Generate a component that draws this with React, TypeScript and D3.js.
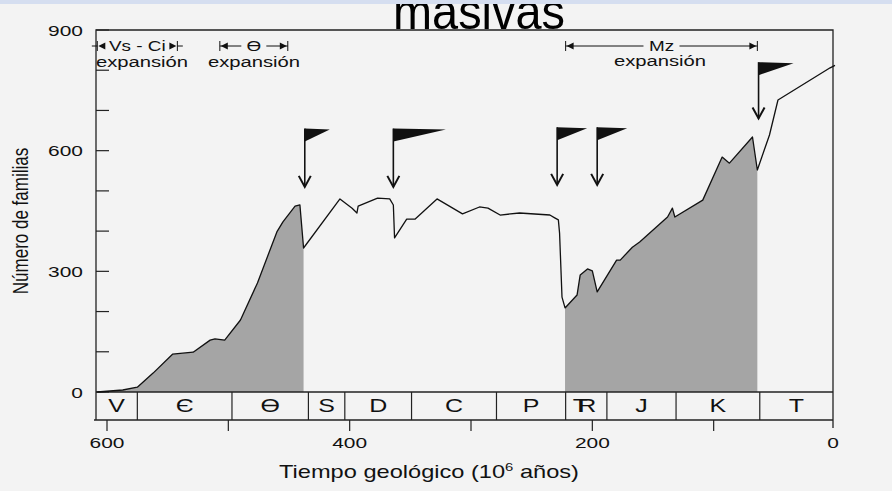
import { useMemo } from 'react';
import * as d3 from 'd3';

// curve: millions of years ago vs number of marine families
const TIMES = [608, 587, 575, 562, 546, 529, 515, 511, 503, 490, 476, 460, 455, 445, 441, 438,
  408, 398, 394, 393, 377, 367, 364, 363, 353, 346, 328, 307, 293, 286, 276, 260, 235, 231, 228, 227,
  225, 222.5, 212.6, 210, 204, 200, 196, 180, 177, 167, 161, 138, 134, 132, 109, 93, 87, 68, 64,
  54, 47, 4, 0];
const FAMILIES = [0, 5, 12, 47, 94, 99, 129, 132, 129, 179, 271, 398, 423, 462, 465, 358,
  480, 457, 445, 462, 482, 480, 465, 383, 430, 430, 480, 443, 460, 457, 440, 445, 440, 433, 428, 395,
  236, 209, 241, 291, 306, 301, 249, 328, 328, 360, 373, 435, 457, 435, 477, 584, 569, 634, 552,
  639, 726, 806, 812];

// shaded (expansion) spans
const SHADED = [[608, 438], [222.5, 64]];

// geological periods
const PERIODS = ['V', 'Є', 'Ɵ', 'S', 'D', 'C', 'P', 'R', 'J', 'K', 'T'];
const PERIOD_BOUNDS = [609, 575, 497, 434, 404, 349, 279, 222, 188, 131, 62, 0];

// mass extinctions (flags)
const EXTINCTIONS = [437, 364, 229, 196, 63];
const EXT_ARROW_TIP = [510, 510, 515, 515, 680];
const EXT_FLAG_TOP = [655, 655, 658, 658, 820];
const EXT_MAGNITUDE = [1, 2.1, 1.2, 1.2, 1.4];

// expansion ranges at top
const RANGES = [
  { label: 'Vs - Ci', from: 608, to: 542 },
  { label: 'Ɵ', from: 507, to: 451 },
  { label: 'Mz', from: 222, to: 64 },
];

const Y_TICKS = d3.range(0, 901, 100);
const Y_LABELS = [0, 300, 600, 900];
const X_TICKS = [600, 500, 400, 300, 200, 100];
const X_LABELS = [600, 400, 200, 0];

const FONT = 'Liberation Sans, Arial, Helvetica, sans-serif';
const SX = 1.35;

const T = ({ x, y, size, anchor = 'middle', children }: any) => (
  <text transform={`translate(${x},${y}) scale(${SX},1)`} fontSize={size} textAnchor={anchor}
    fontFamily={FONT} fill="#111">{children}</text>
);

export default function App() {
  const left = 96, right = 833, top = 30, zeroY = 392, stripBottom = 420;
  const x = d3.scaleLinear().domain([600, 0]).range([107, 835]);
  const y = d3.scaleLinear().domain([0, 900]).range([zeroY, top]);

  const pts = TIMES.map((t, i) => ({ t, f: FAMILIES[i] }));
  const line = d3.line<any>().x(d => x(d.t)).y(d => y(d.f));
  const area = d3.area<any>().x(d => x(d.t)).y0(y(0)).y1(d => y(d.f));

  const shaded = useMemo(() => SHADED.map(([a, b]) => pts.filter(p => p.t <= a && p.t >= b)), []);

  return (
    <svg width={892} height={491} style={{ position: 'fixed', left: 0, top: 0 }}>
      <rect x={0} y={0} width={892} height={491} fill="#f3f3f3" />
      <text x={479} y={29} fontSize={50} textAnchor="middle" fontFamily={FONT} fill="#000"
        textLength={172} lengthAdjust="spacingAndGlyphs">masivas</text>
      <rect x={0} y={0} width={892} height={4} fill="#d5def0" />

      {/* shaded expansions */}
      {shaded.map((s, i) => <path key={i} d={area(s) || ''} fill="#a5a5a5" />)}

      {/* frame */}
      <path d={`M${left},${stripBottom}V${top}H${right}V${stripBottom + 8}`} fill="none" stroke="#222" strokeWidth={1.3} />
      <line x1={left} x2={right} y1={zeroY} y2={zeroY} stroke="#222" strokeWidth={1.3} />
      <line x1={left - 2} x2={right} y1={stripBottom} y2={stripBottom} stroke="#222" strokeWidth={1.3} />

      {/* y ticks */}
      {Y_TICKS.map(v => <line key={v} x1={left} x2={left + 13} y1={y(v)} y2={y(v)} stroke="#222" strokeWidth={1.2} />)}
      {Y_LABELS.map(v => <T key={v} x={83} y={y(v) + 5.5} size={15.5} anchor="end">{v}</T>)}
      <text transform={`translate(28,221) scale(${SX},1) rotate(-90)`} fontSize={17} textAnchor="middle"
        fontFamily={FONT} fill="#111">Número de familias</text>

      {/* periods strip */}
      {PERIOD_BOUNDS.slice(1, -1).map(b => <line key={b} x1={x(b)} x2={x(b)} y1={zeroY} y2={stripBottom} stroke="#222" strokeWidth={1.2} />)}
      {PERIODS.map((p, i) => {
        const a = i === 0 ? left : x(PERIOD_BOUNDS[i]);
        const b = i === PERIODS.length - 1 ? right : x(PERIOD_BOUNDS[i + 1]);
        const cl = (a + b) / 2;
        if (p === 'R') {
          return (
            <g key={p}>
              <T x={cl - 6} y={412} size={18.5}>T</T>
              <T x={cl + 1} y={412} size={18.5}>R</T>
            </g>
          );
        }
        return <T key={p + i} x={cl} y={412} size={18.5}>{p}</T>;
      })}

      {/* x ticks */}
      {X_TICKS.map(v => <line key={v} x1={x(v)} x2={x(v)} y1={stripBottom} y2={stripBottom + 11} stroke="#222" strokeWidth={1.2} />)}
      {X_LABELS.map(v => <T key={v} x={Math.min(x(v), right)} y={448} size={15.5}>{v}</T>)}
      <text transform={`translate(429,478) scale(${SX},1)`} fontSize={17.5} textAnchor="middle" fontFamily={FONT} fill="#111">
        Tiempo geológico (10<tspan fontSize={11} dy={-7}>6</tspan><tspan dy={7}> años)</tspan>
      </text>

      {/* curve */}
      <path d={line(pts) || ''} fill="none" stroke="#111" strokeWidth={1.3} strokeLinejoin="round" />

      {/* extinction flags */}
      {EXTINCTIONS.map((t, i) => {
        const px = x(t), tip = y(EXT_ARROW_TIP[i]), ft = y(EXT_FLAG_TOP[i]);
        const w = 25 * EXT_MAGNITUDE[i];
        return (
          <g key={t}>
            <line x1={px} x2={px} y1={ft} y2={tip} stroke="#111" strokeWidth={1.6} />
            <path d={`M${px - 6},${tip - 11}L${px},${tip}L${px + 6},${tip - 11}`} fill="none" stroke="#111" strokeWidth={2} />
            <path d={`M${px},${ft}L${px + w},${ft + 1}L${px},${ft + 13}Z`} fill="#111" />
          </g>
        );
      })}

      {/* expansion ranges */}
      {RANGES.map(r => {
        const x1 = x(r.from), x2 = x(r.to), cx = (x1 + x2) / 2;
        const ty = 51, half = r.label.length * 5.5 + 7;
        return (
          <g key={r.label} stroke="#111" strokeWidth={1}>
            <line x1={x1} x2={cx - half} y1={ty - 5} y2={ty - 5} />
            <line x1={cx + half} x2={x2} y1={ty - 5} y2={ty - 5} />
            <line x1={x1} x2={x1} y1={ty - 10} y2={ty} />
            <line x1={x2} x2={x2} y1={ty - 10} y2={ty} />
            <path d={`M${x1 + 1},${ty - 5}l7,-3.5v7Z`} fill="#111" stroke="none" />
            <path d={`M${x2 - 1},${ty - 5}l-7,-3.5v7Z`} fill="#111" stroke="none" />
            <g stroke="none"><T x={cx} y={ty} size={14}>{r.label}</T></g>
          </g>
        );
      })}
      <T x={142} y={67} size={15}>expansión</T>
      <T x={254} y={67} size={15}>expansión</T>
      <T x={660} y={66} size={15}>expansión</T>
    </svg>
  );
}
